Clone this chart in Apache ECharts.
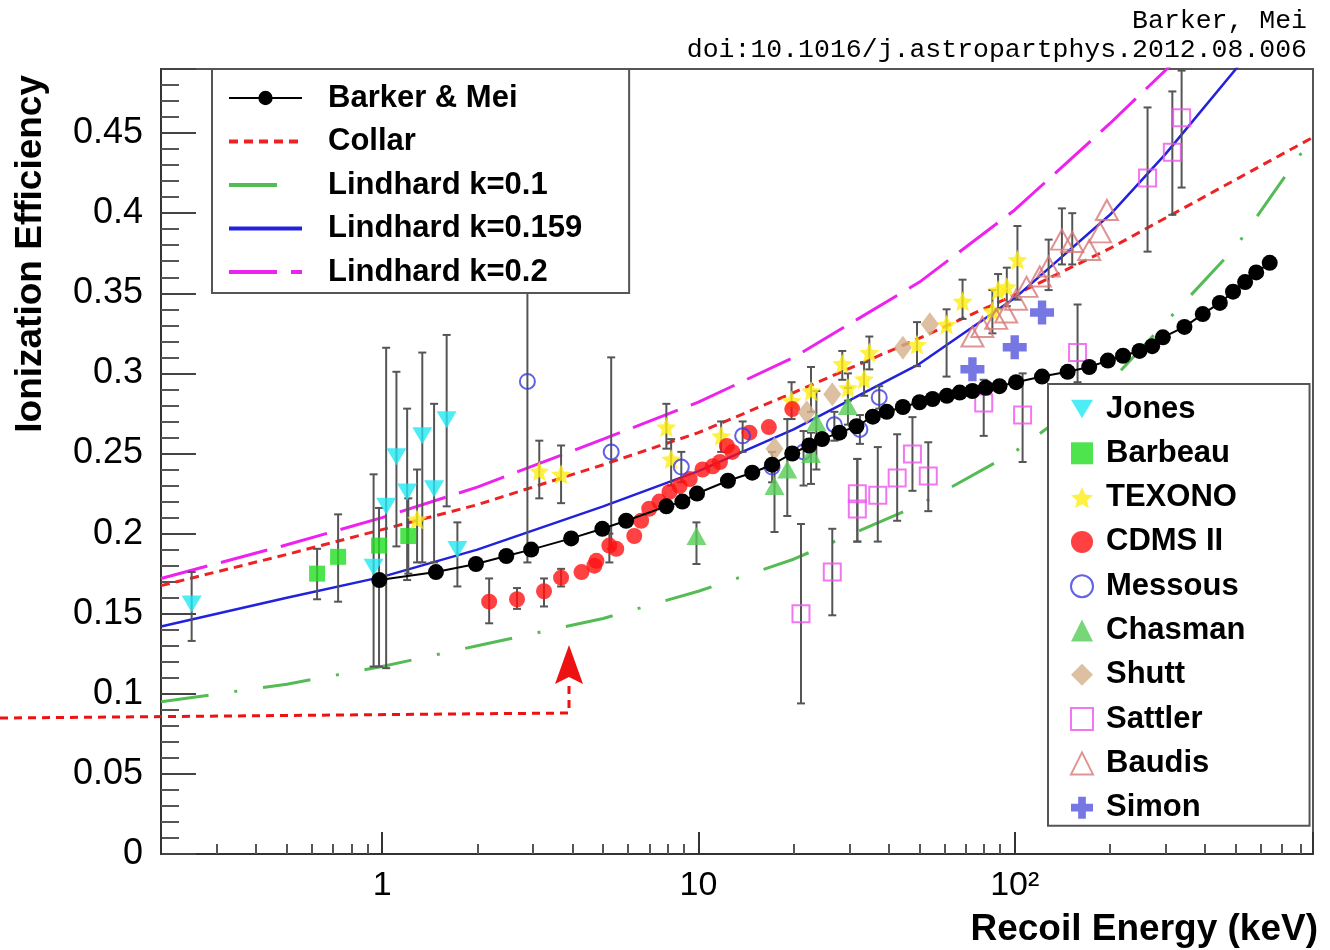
<!DOCTYPE html>
<html><head><meta charset="utf-8">
<script src="https://cdn.jsdelivr.net/npm/echarts@6/dist/echarts.min.js"></script>
<style>html,body{margin:0;padding:0;background:#fff}#c{width:1330px;height:950px}</style>
</head><body><div id="c"></div>
<script>
// ---- data (Recoil energy keV, ionization efficiency) ----
const xTickLabels = {1: '1', 10: '10', 100: '10²'};

const barkerMei = [[0.98,0.171],[1.48,0.176],[1.98,0.181],[2.47,0.186],[2.96,0.190],[3.96,0.197],[4.97,0.203],[5.91,0.208],[7.92,0.217],[8.9,0.220],[9.9,0.225],[12.4,0.233],[14.8,0.238],[17.1,0.243],[19.8,0.250],[22.4,0.255],[24.6,0.259],[27.9,0.263],[31.6,0.267],[35.6,0.273],[39.4,0.276],[44.3,0.279],[50,0.282],[55,0.284],[61,0.286],[67,0.288],[73.5,0.289],[81,0.291],[89.5,0.292],[101,0.2945],[122,0.298],[147,0.301],[172,0.304],[197,0.308],[220,0.311],[248,0.314],[272,0.317],[294,0.3225],[344,0.329],[393,0.337],[445,0.344],[490,0.351],[535,0.357],[580,0.363],[640,0.369]];

const collar = [[0.2,0.1675],[0.5,0.187],[1,0.2025],[2,0.218],[5,0.243],[10,0.263],[20,0.288],[50,0.322],[100,0.349],[200,0.378],[500,0.421],[870,0.447]];
const lindhard01 = [[0.2,0.095],[0.5,0.106],[1,0.117],[2,0.130],[5,0.147],[10,0.164],[20,0.184],[50,0.218],[100,0.251],[200,0.2945],[500,0.379],[870,0.447]];
const lindhard0159 = [[0.2,0.142],[0.5,0.160],[1,0.173],[2,0.190],[5,0.217],[10,0.239],[20,0.265],[50,0.306],[100,0.347],[200,0.399],[300,0.437],[520,0.494]];
const lindhard02 = [[0.2,0.172],[0.5,0.193],[1,0.210],[2,0.229],[5,0.259],[10,0.282],[20,0.310],[50,0.357],[100,0.402],[200,0.456],[310,0.492]];

// [E, value, errLow, errHigh]
const jones = [[0.25,0.156,0.133,0.176],[0.94,0.179,0.117,0.237],[1.03,0.217,0.116,0.316],[1.11,0.248,0.192,0.301],[1.2,0.226,0.171,0.278],[1.34,0.261,0.182,0.313],[1.46,0.228,0.182,0.281],[1.6,0.271,0.217,0.324],[1.73,0.190,0.167,0.207]];
const barbeau = [[0.623,0.175,0.159,0.1905],[0.726,0.1855,0.1575,0.212],[0.978,0.1925,0.117,0.216],[1.21,0.1985,0.175,0.222]];
const texono = [[1.29,0.209,0.182,0.240],[3.14,0.239,0.222,0.258],[3.68,0.237,0.219,0.255],[7.92,0.2665,0.253,0.281],[8.2,0.2465,0.230,0.259],[11.8,0.261,0.251,0.270],[19.7,0.283,0.2715,0.2945],[22.7,0.289,0.276,0.304],[28.5,0.306,0.296,0.314],[29.7,0.291,0.283,0.300],[33.4,0.2965,0.286,0.307],[34.7,0.313,0.3025,0.323],[49.1,0.318,0.3045,0.332],[60.9,0.3305,0.298,0.340],[68.4,0.345,0.334,0.3585],[85,0.339,0.325,0.352],[88.6,0.352,0.340,0.362],[94.4,0.354,0.342,0.366],[102,0.371,0.346,0.392]];
const cdms = [[2.18,0.1575,0.144,0.172],[2.67,0.159,0.153,0.166],[3.25,0.164,0.1545,0.172],[3.68,0.1725,0.167,0.178],[4.27,0.176,null,null],[4.69,0.180,null,null],[4.76,0.183,null,null],[5.23,0.1925,0.182,0.200],[5.5,0.1905,null,null],[6.27,0.1985,null,null],[6.59,0.208,null,null],[6.99,0.2155,null,null],[7.53,0.220,null,null],[8.1,0.226,null,null],[8.72,0.2297,null,null],[9.39,0.234,null,null],[10.3,0.240,null,null],[11.1,0.242,null,null],[11.7,0.2447,null,null],[12.3,0.2547,null,null],[12.8,0.251,null,null],[14.5,0.263,null,null],[16.7,0.2665,null,null],[19.8,0.2777,null,null]];
const messous = [[2.88,0.295,0.182,0.357],[5.3,0.251,0.1905,0.310],[8.83,0.2415,0.232,0.251],[13.8,0.261,0.251,0.270],[17.1,0.2415,0.232,0.251],[21.5,0.251,0.230,0.264],[26.9,0.268,0.258,0.276],[32.4,0.265,0.256,0.274],[37.3,0.285,0.278,0.292]];
const chasman = [[9.86,0.1985,0.181,0.207],[17.4,0.2297,0.201,0.242],[19.1,0.240,0.211,0.2715],[22.7,0.2497,0.231,0.263],[23.6,0.2696,0.240,0.289],[29.7,0.2797,0.268,0.291]];
const shutt = [[17.4,0.253,null,null],[22,0.2758,null,null],[26.5,0.287,null,null],[44.3,0.316,null,null],[53.9,0.3306,null,null]];
const sattler = [[21.1,0.150,0.094,0.206],[26.5,0.176,0.149,0.203],[31.8,0.2248,0.195,0.2466],[31.8,0.2154,0.195,0.2466],[36.9,0.224,0.195,0.254],[42.5,0.2347,0.208,0.262],[47.5,0.2497,0.2267,0.2727],[53.3,0.236,0.214,0.257],[79.8,0.2815,0.261,0.296],[105.9,0.274,0.2447,0.300],[158,0.313,0.2945,0.343],[263,0.422,0.376,0.466],[315,0.438,0.399,0.476],[337,0.4595,0.416,0.489]];
const baudis = [[73.5,0.323,null,null],[79,0.329,null,null],[87.4,0.334,null,null],[94,0.338,null,null],[101,0.346,null,null],[109,0.354,null,null],[120,0.3605,null,null],[128,0.3667,0.352,0.3835],[141,0.3835,0.368,0.403],[152,0.382,0.368,0.400],[172,0.377,null,null],[186,0.388,null,null],[195.6,0.402,null,null]];
const simon = [[73.5,0.3026,null,null],[100,0.3163,null,null],[122,0.338,null,null]];

// ---- chart ----
const chart = echarts.init(document.getElementById('c'));
const FONT = '"Liberation Sans", Arial, sans-serif';

function errRender(params, api) {
  const x = api.value(0), lo = api.value(2), hi = api.value(3);
  const p1 = api.coord([x, lo]), p2 = api.coord([x, hi]);
  const w = 4, st = {stroke: '#555', lineWidth: 2};
  return {type: 'group', children: [
    {type: 'line', shape: {x1: p1[0], y1: p1[1], x2: p2[0], y2: p2[1]}, style: st},
    {type: 'line', shape: {x1: p1[0] - w, y1: p1[1], x2: p1[0] + w, y2: p1[1]}, style: st},
    {type: 'line', shape: {x1: p2[0] - w, y1: p2[1], x2: p2[0] + w, y2: p2[1]}, style: st}
  ]};
}
function errSeries(rows) {
  return {type: 'custom', renderItem: errRender, clip: true, z: 3, silent: true,
    encode: {x: 0, y: [2, 3]},
    data: rows.filter(r => r[2] != null).map(r => [r[0], r[1], r[2], r[3]])};
}
function pts(rows) { return rows.map(r => [r[0], r[1]]); }
function scat(name, rows, symbol, size, itemStyle) {
  return {name, type: 'scatter', data: pts(rows), symbol, symbolSize: size, itemStyle, z: 4};
}
function curve(name, data, color, width, type) {
  return {name, type: 'line', data, showSymbol: false, symbol: 'none', smooth: false, z: 2,
    lineStyle: {color, width, type}, itemStyle: {color}};
}
const noSym = {color: 'rgba(0,0,0,0)', borderWidth: 0};

const downTri = 'path://M0,0 L20,0 L10,17 Z';
const star = 'path://M10,0 L12.9,6.9 L20,7.6 L14.6,12.4 L16.2,19.5 L10,15.8 L3.8,19.5 L5.4,12.4 L0,7.6 L7.1,6.9 Z';
const plus = 'path://M6.5,0 H13.5 V6.5 H20 V13.5 H13.5 V20 H6.5 V13.5 H0 V6.5 H6.5 Z';

const datasets = [jones, barbeau, texono, cdms, messous, chasman, shutt, sattler, baudis, simon];

chart.setOption({
  animation: false,
  backgroundColor: '#fff',
  grid: {left: 161, right: 17, top: 69, bottom: 96, show: true, borderColor: '#555', borderWidth: 2},
  xAxis: {
    type: 'log', logBase: 10, min: 0.2, max: 877,
    axisLine: {show: true, lineStyle: {color: '#333', width: 2}},
    axisTick: {show: true, inside: true, length: 22, lineStyle: {color: '#333', width: 2}},
    minorTick: {show: true, splitNumber: 9, length: 10, lineStyle: {color: '#555', width: 2}},
    splitLine: {show: false}, minorSplitLine: {show: false},
    axisLabel: {margin: 15, fontFamily: FONT, fontSize: 34, color: '#000',
      formatter: v => xTickLabels[Math.round(v * 1000) / 1000] || ''}
  },
  yAxis: {
    type: 'value', min: 0, max: 0.49, interval: 0.05,
    axisLine: {show: true, lineStyle: {color: '#333', width: 2}},
    axisTick: {show: true, inside: true, length: 35, lineStyle: {color: '#444', width: 2}},
    minorTick: {show: true, splitNumber: 5, length: 18, lineStyle: {color: '#555', width: 2}},
    splitLine: {show: false},
    axisLabel: {margin: 18, fontFamily: FONT, fontSize: 36, color: '#000', showMaxLabel: false}
  },
  legend: [{
    data: [{name: 'Barker & Mei', lineStyle: {width: 2}},
           {name: 'Collar', itemStyle: noSym, lineStyle: {width: 4}},
           {name: 'Lindhard k=0.1', itemStyle: noSym, lineStyle: {width: 4}},
           {name: 'Lindhard k=0.159', itemStyle: noSym, lineStyle: {width: 4}},
           {name: 'Lindhard k=0.2', itemStyle: noSym, lineStyle: {width: 4}}],
    orient: 'vertical', left: 212, top: 69, padding: [11, 47, 3, 15],
    itemWidth: 73, itemHeight: 18, itemGap: 7.5,
    backgroundColor: '#fff', borderColor: '#555', borderWidth: 2, selectedMode: false, z: 10,
    textStyle: {fontFamily: FONT, fontWeight: 'bold', fontSize: 31, color: '#000', lineHeight: 36, padding: [0, 0, 0, 21]}
  }, {
    data: ['Jones', 'Barbeau', 'TEXONO', 'CDMS II', 'Messous', 'Chasman', 'Shutt', 'Sattler', 'Baudis', 'Simon'],
    orient: 'vertical', left: 1048, top: 384, padding: [7, 64, 0, 22],
    itemWidth: 22, itemHeight: 22, itemGap: 8.3,
    backgroundColor: '#fff', borderColor: '#555', borderWidth: 2, selectedMode: false, z: 10,
    textStyle: {fontFamily: FONT, fontWeight: 'bold', fontSize: 31, color: '#000', lineHeight: 36, padding: [0, 0, 0, 8]}
  }],
  series: [
    curve('Lindhard k=0.1', lindhard01, '#55bb55', 3, [48, 26, 3, 26]),
    curve('Lindhard k=0.2', lindhard02, '#ee22ee', 3, [48, 14]),
    curve('Collar', collar, '#ee2222', 3, [9, 6]),
    curve('Lindhard k=0.159', lindhard0159, '#2222dd', 2.5, 'solid'),
    ...datasets.map(errSeries),
    {name: 'Barker & Mei', type: 'line', data: barkerMei, symbol: 'circle', symbolSize: 16, showSymbol: true, z: 5,
      lineStyle: {color: '#000', width: 2}, itemStyle: {color: '#000'}},
    scat('Jones', jones, downTri, [20, 17], {color: '#22e8f4'}),
    scat('Barbeau', barbeau, 'rect', 16, {color: '#22dd22'}),
    scat('TEXONO', texono, star, 20, {color: '#ffee11'}),
    scat('CDMS II', cdms, 'circle', 16, {color: '#ff1111'}),
    scat('Messous', messous, 'circle', 15, {color: 'rgba(255,255,255,0)', borderColor: '#3b3be0', borderWidth: 2}),
    scat('Chasman', chasman, 'triangle', [20, 18], {color: '#55cc55'}),
    scat('Shutt', shutt, 'diamond', [18, 24], {color: '#d4b08a'}),
    scat('Sattler', sattler, 'rect', 17, {color: 'rgba(255,255,255,0)', borderColor: '#ee55ee', borderWidth: 2}),
    scat('Baudis', baudis, 'triangle', [22, 20], {color: 'rgba(255,255,255,0)', borderColor: '#d87878', borderWidth: 2}),
    scat('Simon', simon, plus, 24, {color: '#5555dd'})
  ],
  graphic: [
    {type: 'text', x: 1307, y: 21, z: 100, style: {text: 'Barker, Mei', align: 'right', verticalAlign: 'middle', fontFamily: '"Liberation Mono", monospace', fontSize: 26.5, fill: '#000'}},
    {type: 'text', x: 1307, y: 50, z: 100, style: {text: 'doi:10.1016/j.astropartphys.2012.08.006', align: 'right', verticalAlign: 'middle', fontFamily: '"Liberation Mono", monospace', fontSize: 26.5, fill: '#000'}},
    {type: 'text', x: 31, y: 75, rotation: Math.PI / 2, z: 100, style: {text: 'Ionization Efficiency', align: 'right', verticalAlign: 'middle', fontFamily: FONT, fontWeight: 'bold', fontSize: 37, fill: '#000'}},
    {type: 'text', x: 1318, y: 930, z: 100, style: {text: 'Recoil Energy (keV)', align: 'right', verticalAlign: 'middle', fontFamily: FONT, fontWeight: 'bold', fontSize: 37, fill: '#000'}},
    {type: 'polyline', z: 100, shape: {points: [[0, 718], [569, 713], [569, 682]]}, style: {stroke: '#ee1111', lineWidth: 3, lineDash: [8, 6], fill: null}},
    {type: 'polygon', z: 100, shape: {points: [[569, 645], [583, 684], [569, 677], [555, 684]]}, style: {fill: '#ee1111'}}
  ]
});
</script>
</body></html>
